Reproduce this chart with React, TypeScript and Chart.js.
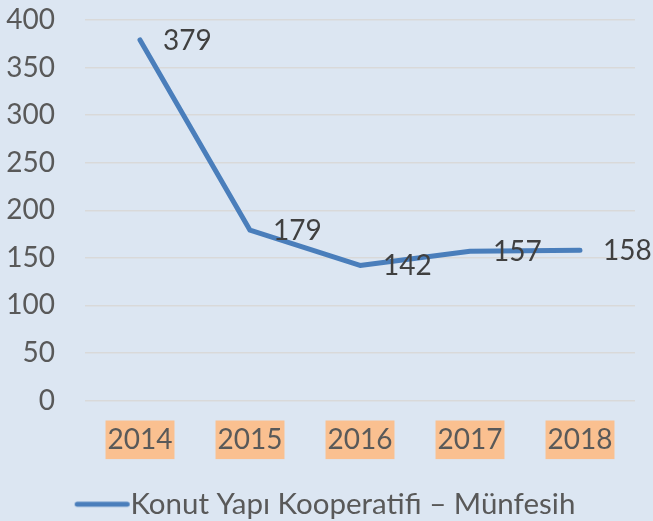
import React, { useEffect, useRef } from "react";
import { Chart, registerables } from "chart.js";

Chart.register(...registerables);

const categories = ["2014", "2015", "2016", "2017", "2018"];
const seriesName = "Konut Yapı Kooperatifi – Münfesih";
const values = [379, 179, 142, 157, 158];
const yTicks = [0, 50, 100, 150, 200, 250, 300, 350, 400];

const FONT = "Lato, 'Liberation Sans', sans-serif";
const BG = "#dce6f2";
const LINE = "#4a7ebb";

const dataLabels = {
  id: "dataLabels",
  afterDatasetsDraw(chart: any) {
    const ctx = chart.ctx;
    const meta = chart.getDatasetMeta(0);
    const ds = chart.data.datasets[0];
    ctx.save();
    ctx.font = `28px ${FONT}`;
    ctx.fillStyle = "#404040";
    ctx.textAlign = "left";
    ctx.textBaseline = "middle";
    meta.data.forEach((pt: any, i: number) => {
      ctx.fillText(String(ds.data[i]), pt.x + 23, pt.y + 1);
    });
    ctx.restore();
  },
};

function makeLegendLine() {
  const c = document.createElement("canvas");
  c.width = 88;
  c.height = 10;
  const g = c.getContext("2d")!;
  g.strokeStyle = LINE;
  g.lineWidth = 5;
  g.lineCap = "round";
  g.beginPath();
  g.moveTo(33.5, 5);
  g.lineTo(83.5, 5);
  g.stroke();
  return c;
}

export default function App() {
  const ref = useRef<HTMLCanvasElement>(null);
  useEffect(() => {
    document.body.style.margin = "0";
    const legendLine = makeLegendLine();
    const chart = new Chart(ref.current!, {
      type: "line",
      data: {
        labels: categories,
        datasets: [
          {
            label: seriesName,
            data: values,
            borderColor: LINE,
            backgroundColor: LINE,
            borderWidth: 5,
            borderCapStyle: "round",
            borderJoinStyle: "round",
            pointRadius: 0,
            tension: 0,
          },
        ],
      },
      options: {
        animation: false,
        responsive: true,
        maintainAspectRatio: false,
        layout: { padding: { top: 20, right: 18, left: 0, bottom: -8 } },
        scales: {
          x: {
            offset: true,
            grid: { display: false, drawTicks: false },
            border: { display: false },
            afterFit(scale: any) {
              scale.height = 86;
            },
            ticks: {
              padding: 23,
              color: "#595959",
              font: { family: FONT, size: 28 },
              showLabelBackdrop: true,
              backdropColor: "#fac090",
              backdropPadding: { top: 3, bottom: 2, left: 2, right: 2 },
            },
          },
          y: {
            min: 0,
            max: 400,
            afterFit(scale: any) {
              scale.width = 85;
              scale.paddingTop = 0;
              scale.paddingBottom = 0;
            },
            afterBuildTicks(scale: any) {
              scale.ticks = yTicks.map((v) => ({ value: v }));
            },
            grid: { color: "#d9d9d9", lineWidth: 1.5, drawTicks: false },
            border: { display: false },
            ticks: {
              padding: 30,
              color: "#595959",
              font: { family: FONT, size: 28 },
            },
          },
        },
        plugins: {
          tooltip: { enabled: false },
          legend: {
            position: "bottom",
            labels: {
              usePointStyle: true,
              pointStyle: legendLine,
              pointStyleWidth: 56,
              color: "#595959",
              font: { family: FONT, size: 29.5 },
              padding: 3,
            },
          },
        },
      },
      plugins: [dataLabels],
    } as any);
    return () => chart.destroy();
  }, []);
  return (
    <div style={{ position: "fixed", left: 0, top: 0, width: 653, height: 521, background: BG }}>
      <canvas ref={ref} />
    </div>
  );
}
